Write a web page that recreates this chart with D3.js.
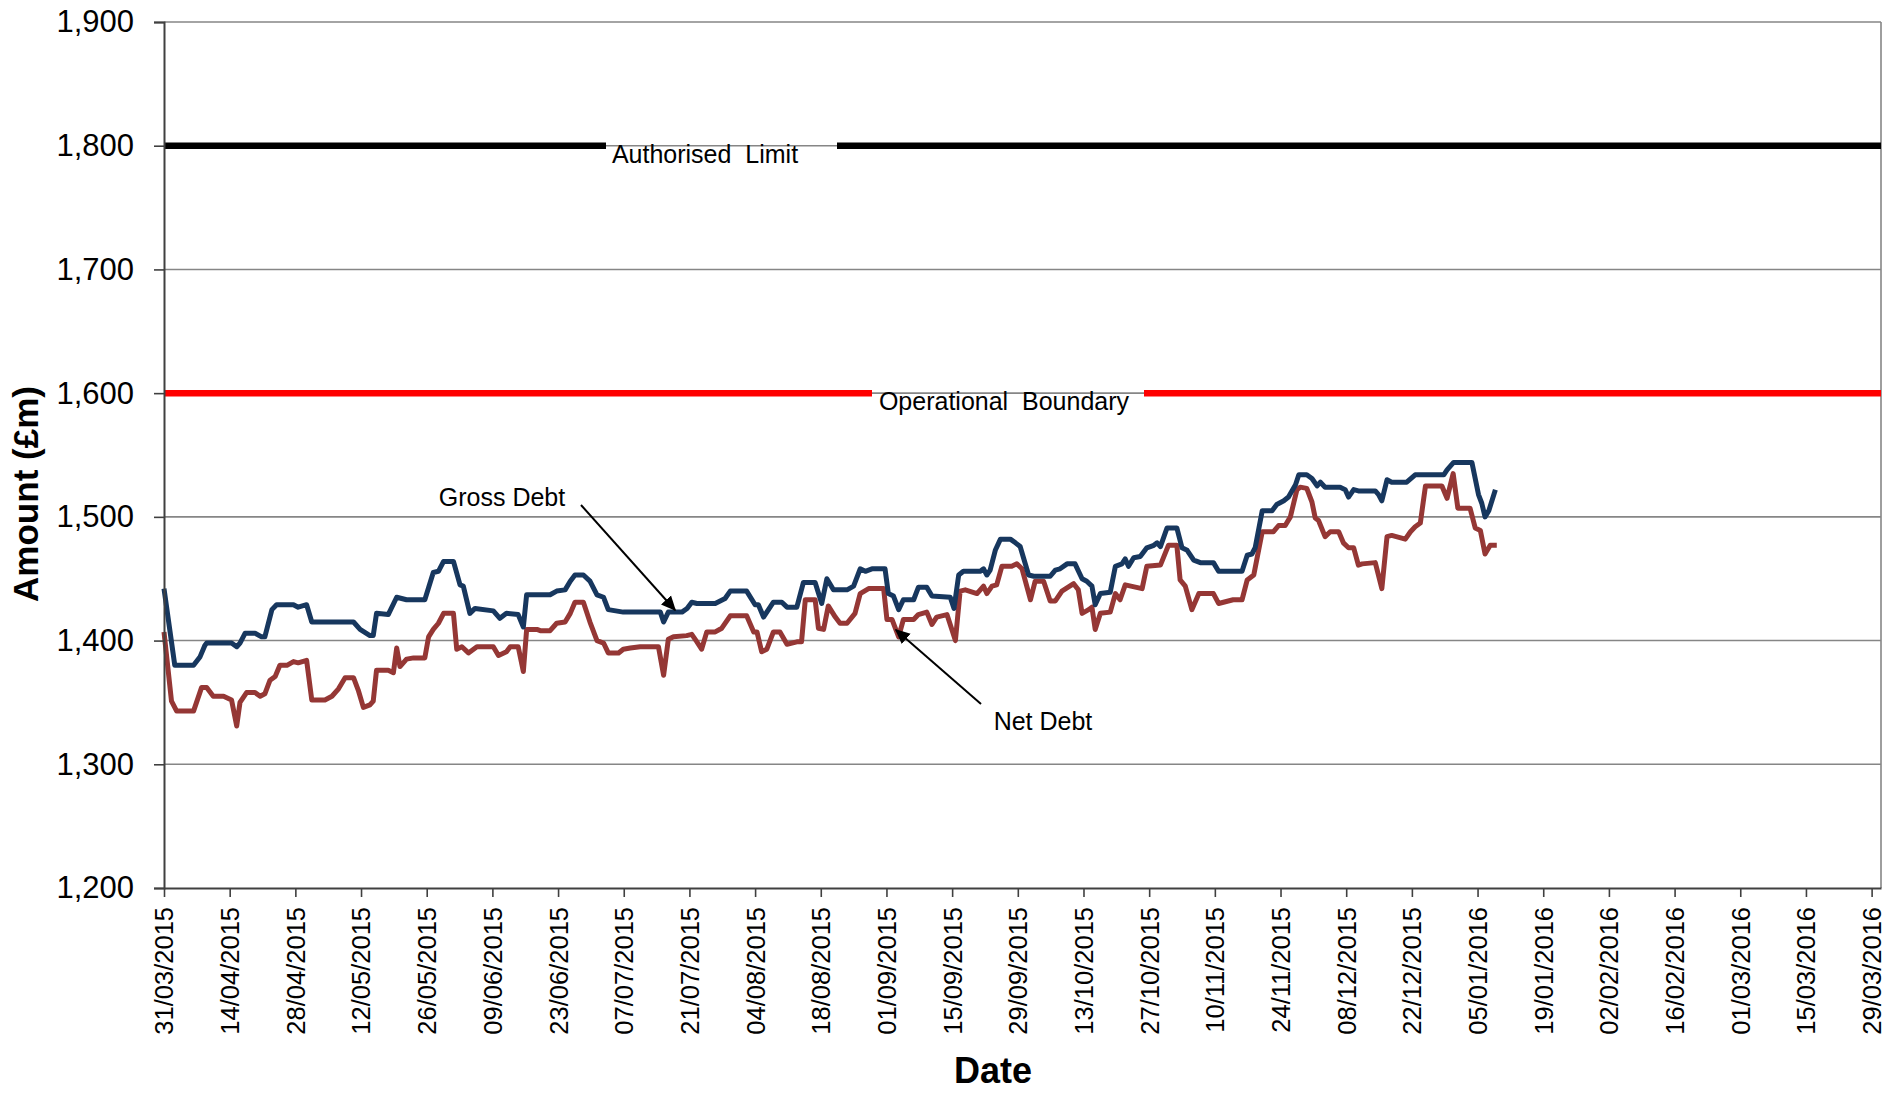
<!DOCTYPE html>
<html><head><meta charset="utf-8">
<script src="https://cdn.jsdelivr.net/npm/d3@7"></script>
<style>body{margin:0;background:#fff;}svg{display:block;font-family:"Liberation Sans",Arial,sans-serif;}</style>
</head><body>
<svg id="c" width="1894" height="1093"></svg>
<script>
// ---- data ----
const startDate = "31/03/2015";
const endDate = "31/03/2016";
const xTickLabels = ["31/03/2015","14/04/2015","28/04/2015","12/05/2015","26/05/2015","09/06/2015","23/06/2015","07/07/2015","21/07/2015","04/08/2015","18/08/2015","01/09/2015","15/09/2015","29/09/2015","13/10/2015","27/10/2015","10/11/2015","24/11/2015","08/12/2015","22/12/2015","05/01/2016","19/01/2016","02/02/2016","16/02/2016","01/03/2016","15/03/2016","29/03/2016"];
const yTicks = [1200,1300,1400,1500,1600,1700,1800,1900];
const authorisedLimit = 1800;
const operationalBoundary = 1600;
// days since 31/03/2015
const grossDays = [0,2.3,6.3,7.7,8.7,9.1,14.4,15.5,16.2,17.3,19.4,20.8,21.5,23,24,27.6,28.6,30.4,31.5,40.4,41.8,43.9,44.6,45.3,47.8,49.6,51.7,55.6,57.4,58.5,59.6,61.7,63.1,63.8,65.2,66.3,70.2,71.6,73,75.5,76.6,77.3,80.2,82.3,83.7,85.5,86.6,87.6,89.4,90.8,92.3,93.7,94.7,97.9,105.8,106.5,107.5,109,110.4,111.5,112.5,113.6,117.5,119.6,120.7,124.2,126,126.7,127.8,129.2,129.9,131.7,132.8,134.9,136.3,138.8,140.2,141.3,142.7,145.6,147,148.4,149.5,150.9,153.7,154.4,155.5,156.6,157.6,159.8,160.8,162.6,163.7,167.6,168.4,169.4,170.4,174,174.7,175.4,176.1,177.2,178.3,180.4,181.5,182.5,184.3,185.4,188.9,190,191,192.5,194.2,195.7,196.7,197.8,198.5,199.6,201.7,202.8,204.2,204.9,205.6,206.7,208.1,209.5,211,211.7,212.4,213.8,215.9,217,218.1,219.5,220.9,223.7,224.8,229.8,230.9,231.9,232.6,234.1,236.2,237.2,238.7,239.7,241.2,241.9,243.6,244.7,245.8,246.5,247.5,250.7,251.8,252.5,253.6,254.6,258.2,258.9,259.6,260.7,261.7,264.9,266.7,272.8,273.5,274.9,278.8,279.5,280.2,280.9,281.6,282.4,283.8];
const grossDebt = [1442,1380,1380,1387,1396,1398,1398,1395,1398,1406,1406,1403,1403,1425,1429,1429,1427,1429,1415,1415,1409,1404,1404,1422,1421,1435,1433,1433,1455,1456,1464,1464,1445,1444,1422,1426,1424,1418,1422,1421,1411,1437,1437,1437,1440,1441,1448,1453,1453,1448,1437,1435,1425,1423,1423,1415,1423,1423,1423,1426,1431,1430,1430,1434,1440,1440,1429,1429,1419,1427,1431,1431,1427,1427,1447,1447,1430,1450,1441,1441,1444,1458,1456,1458,1458,1438,1436,1425,1433,1433,1443,1443,1436,1435,1426,1453,1456,1456,1458,1453,1457,1473,1482,1482,1479,1476,1453,1452,1452,1457,1458,1462,1462,1450,1448,1444,1429,1438,1439,1460,1462,1466,1460,1467,1468,1475,1477,1479,1476,1491,1491,1475,1473,1465,1463,1463,1456,1456,1469,1470,1475,1505,1505,1510,1513,1516,1526,1534,1534,1531,1525,1528,1524,1524,1522,1516,1522,1521,1521,1518,1513,1530,1528,1528,1534,1534,1538,1544,1544,1531,1518,1511,1500,1505,1522];
const netDays = [0,1.6,2.7,6.3,8,9.1,10.5,12.7,14.4,15.5,16.2,17.6,19.4,20.5,21.5,22.6,23.7,24.7,26.2,27.6,28.6,30.4,31.5,34.3,35.8,37.2,38.6,40.4,41.4,42.5,43.9,44.6,45.3,47.8,48.9,49.6,50.3,51.7,53.2,55.6,56.4,57.4,58.5,59.6,61.7,62.4,63.5,64.9,66.7,70.2,71.3,73,73.8,75.5,76.6,77.3,79.5,80.2,82.3,83.7,85.5,86.6,87.6,89.4,90.8,92.3,93.7,94.7,96.9,97.9,99.4,101.5,105.4,106.5,107.5,108.6,111.4,112.5,113.6,114.6,115.7,117.5,118.9,120.7,124.2,125.7,126.4,127.4,128.5,129.9,131.3,132.8,134.9,135.9,136.7,138.8,139.5,140.6,141.6,143.1,144.1,145.6,147.3,148.4,150.2,153.4,154.1,155.2,156.6,157.6,159.8,160.8,162.6,163.7,164.7,166.9,168.7,169.7,170.8,173.3,174.7,175.4,176.5,177.5,178.6,180.7,181.8,182.9,184.7,185.7,187.5,188.9,190,191.4,193.9,194.9,195.7,197.1,197.8,198.5,199.6,201.7,202.8,203.8,204.9,208.5,209.5,212.4,214.1,215.9,216.6,217.7,219.1,220.6,223.7,224.8,227.9,229.8,230.9,232.3,234.1,236.5,237.6,239,240.1,241.5,242.2,243.6,244.7,245.4,246.1,247.5,248.6,250.4,251.4,252.5,253.6,254.6,255.4,258.2,259.6,260.7,261.7,264.6,265.7,266.7,267.8,268.9,272.4,273.5,274.8,275.8,278.4,279.5,280.6,281.6,282.7,284.1];
const netDebt = [1407,1351,1343,1343,1362,1362,1355,1355,1352,1331,1350,1358,1358,1355,1357,1368,1371,1380,1380,1383,1382,1384,1352,1352,1355,1361,1370,1370,1360,1346,1348,1351,1376,1376,1374,1394,1379,1385,1386,1386,1403,1409,1414,1422,1422,1393,1395,1390,1395,1395,1388,1391,1395,1395,1375,1409,1409,1408,1408,1414,1415,1422,1431,1431,1415,1400,1398,1390,1390,1393,1394,1395,1395,1372,1401,1403,1404,1405,1399,1393,1407,1407,1410,1420,1420,1407,1407,1391,1393,1407,1407,1397,1399,1399,1433,1433,1410,1409,1428,1419,1414,1414,1422,1438,1442,1442,1417,1417,1403,1417,1417,1421,1423,1413,1419,1421,1400,1440,1441,1438,1444,1438,1444,1445,1460,1460,1462,1458,1433,1448,1448,1432,1432,1440,1446,1441,1422,1425,1427,1409,1422,1423,1438,1433,1445,1442,1460,1461,1477,1477,1449,1444,1425,1438,1438,1430,1433,1433,1449,1453,1488,1488,1493,1493,1500,1522,1524,1523,1512,1499,1497,1484,1488,1488,1479,1475,1475,1461,1462,1463,1442,1484,1485,1482,1488,1492,1495,1525,1525,1515,1535,1507,1507,1491,1489,1470,1477,1477];

// ---- chart ----
const svg = d3.select("#c");
const parse = d3.utcParse("%d/%m/%Y");
const fmt = d3.utcFormat("%d/%m/%Y");
const t0 = parse(startDate);
const dayToDate = d => new Date(t0.getTime() + d * 86400000);
const L = 164, R = 1881, T = 22, B = 888;
const x = d3.scaleUtc().domain([t0, parse(endDate)]).range([L, R]);
const y = d3.scaleLinear().domain([1200, 1900]).range([B, T]);

// gridlines
svg.append("g").selectAll("line").data(yTicks.filter(v => v > 1200)).join("line")
  .attr("x1", L).attr("x2", R).attr("y1", d => y(d)).attr("y2", d => y(d))
  .attr("stroke", "#868686").attr("stroke-width", 1.6);
// right border
svg.append("line").attr("x1", R).attr("x2", R).attr("y1", T).attr("y2", B)
  .attr("stroke", "#868686").attr("stroke-width", 1.6);

// limit lines with gaps for labels
function limitLine(val, color, gapA, gapB, label, lx) {
  svg.append("line").attr("x1", L).attr("x2", gapA).attr("y1", y(val)).attr("y2", y(val))
    .attr("stroke", color).attr("stroke-width", 6.5);
  svg.append("line").attr("x1", gapB).attr("x2", R).attr("y1", y(val)).attr("y2", y(val))
    .attr("stroke", color).attr("stroke-width", 6.5);
  svg.append("text").attr("x", lx).attr("y", y(val) + 17).attr("text-anchor", "middle")
    .attr("font-size", 25).attr("fill", "#000").style("white-space", "pre").text(label);
}
limitLine(authorisedLimit, "#000000", 606, 837, "Authorised  Limit", 705);
limitLine(operationalBoundary, "#FF0000", 872, 1144, "Operational  Boundary", 1004);

// series
const line = d3.line().x(d => x(d[0])).y(d => y(d[1]));
const grossPts = grossDays.map((d, i) => [dayToDate(d), grossDebt[i]]);
const netPts = netDays.map((d, i) => [dayToDate(d), netDebt[i]]);
svg.append("path").datum(netPts).attr("d", line).attr("fill", "none")
  .attr("stroke", "#953735").attr("stroke-width", 5).attr("stroke-linejoin", "round");
svg.append("path").datum(grossPts).attr("d", line).attr("fill", "none")
  .attr("stroke", "#17375E").attr("stroke-width", 5).attr("stroke-linejoin", "round");

// axes
const yAxis = d3.axisLeft(y).tickValues(yTicks).tickSize(10).tickPadding(20).tickFormat(d3.format(","));
const gy = svg.append("g").attr("transform", `translate(${L},0)`).call(yAxis);
gy.select(".domain").attr("stroke", "#404040").attr("stroke-width", 2);
gy.selectAll(".tick line").attr("stroke", "#404040").attr("stroke-width", 1.6);
gy.selectAll("text").attr("font-size", 31).attr("fill", "#000").attr("font-family", "Liberation Sans, Arial, sans-serif");

const xAxis = d3.axisBottom(x).tickValues(xTickLabels.map(parse)).tickSize(9).tickSizeOuter(0).tickFormat(fmt);
const gx = svg.append("g").attr("transform", `translate(0,${B})`).call(xAxis);
gx.select(".domain").attr("stroke", "#404040").attr("stroke-width", 2);
gx.selectAll(".tick line").attr("stroke", "#404040").attr("stroke-width", 1.6);
gx.selectAll("text").attr("font-size", 25.5).attr("fill", "#000").attr("font-family", "Liberation Sans, Arial, sans-serif")
  .attr("transform", "rotate(-90)").attr("text-anchor", "end").attr("x", -19).attr("y", 0).attr("dy", "0.35em");

// axis titles
svg.append("text").attr("transform", "translate(38,494) rotate(-90)").attr("text-anchor", "middle")
  .attr("font-size", 35).attr("font-weight", "bold").text("Amount (£m)");
svg.append("text").attr("x", 993).attr("y", 1083).attr("text-anchor", "middle")
  .attr("font-size", 36).attr("font-weight", "bold").text("Date");

// annotations
svg.append("defs").append("marker").attr("id", "arr").attr("viewBox", "0 0 10 10")
  .attr("refX", 9).attr("refY", 5)
  .attr("markerUnits", "userSpaceOnUse").attr("orient", "auto")
  .attr("markerWidth", 15).attr("markerHeight", 15)
  .append("path").attr("d", "M0,0.5 L10,5 L0,9.5 Z").attr("fill", "#000");
svg.append("text").attr("x", 502).attr("y", 506).attr("text-anchor", "middle").attr("font-size", 25).text("Gross Debt");
svg.append("line").attr("x1", 581).attr("y1", 505).attr("x2", 675).attr("y2", 610)
  .attr("stroke", "#000").attr("stroke-width", 2).attr("marker-end", "url(#arr)");
svg.append("text").attr("x", 1043).attr("y", 730).attr("text-anchor", "middle").attr("font-size", 25).text("Net Debt");
svg.append("line").attr("x1", 981).attr("y1", 704).attr("x2", 896).attr("y2", 630)
  .attr("stroke", "#000").attr("stroke-width", 2).attr("marker-end", "url(#arr)");
</script>
</body></html>
